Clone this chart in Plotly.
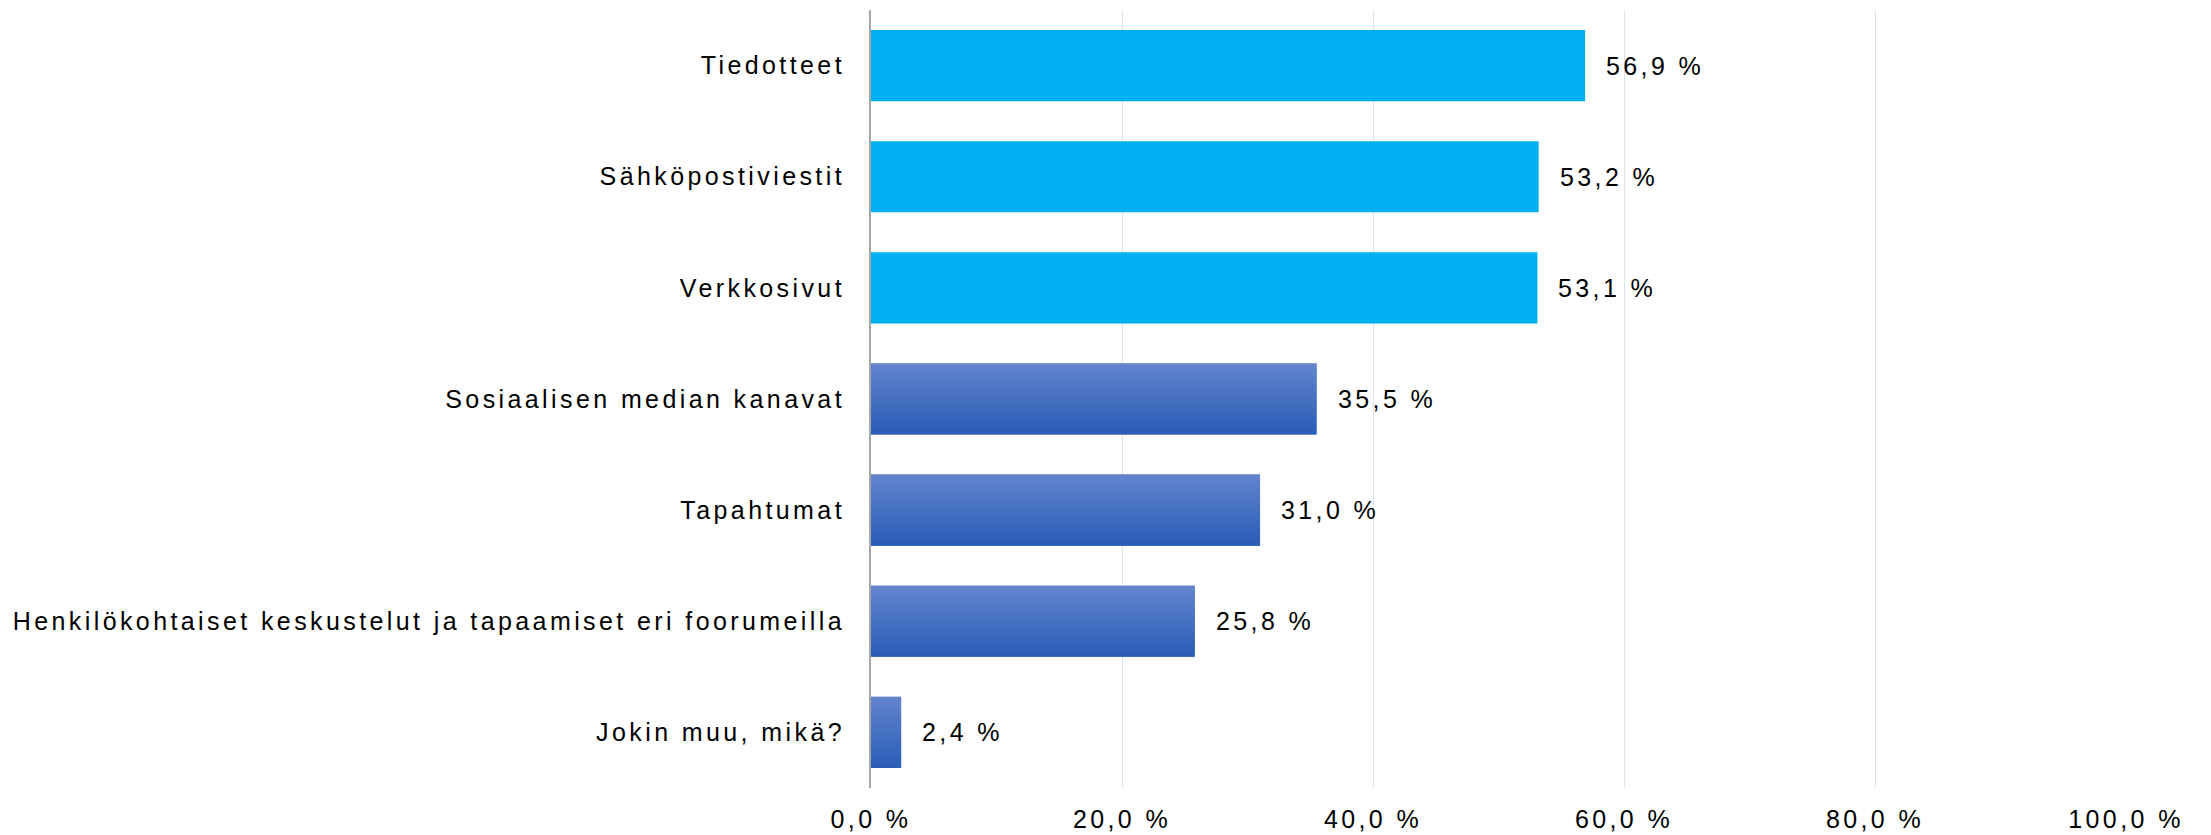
import plotly.graph_objects as go

categories = [
    'Tiedotteet',
    'Sähköpostiviestit',
    'Verkkosivut',
    'Sosiaalisen median kanavat',
    'Tapahtumat',
    'Henkilökohtaiset keskustelut ja tapaamiset eri foorumeilla',
    'Jokin muu, mikä?',
]
values = [56.9, 53.2, 53.1, 35.5, 31.0, 25.8, 2.4]
highlight = [True, True, True, False, False, False, False]
x_ticks = [0, 20, 40, 60, 80, 100]
x_tick_labels = ['0,0 %', '20,0 %', '40,0 %', '60,0 %', '80,0 %', '100,0 %']

FONT = 'Liberation Sans, Arial, sans-serif'
BAR_W = 0.64
N_SLICES = 24
TOP_RGB = (98, 132, 205)
BOT_RGB = (43, 94, 184)


def spaced(s):
    # the original uses widely tracked text
    return f'<span style="letter-spacing:3.4px">{s}</span>'


labels = [f'{v:.1f} %'.replace('.', ',') for v in values]

fig = go.Figure()
fig.add_trace(go.Bar(
    x=values, y=categories, orientation='h', width=BAR_W,
    marker=dict(color=['#00B0F0' if h else '#4571C6' for h in highlight],
                line=dict(width=0)),
    hoverinfo='skip',
))

# vertical gradient on the plain blue bars, drawn as thin horizontal slices
g_cat = [c for c, h in zip(categories, highlight) if not h]
g_val = [v for v, h in zip(values, highlight) if not h]
h = BAR_W / N_SLICES
for i in range(N_SLICES):
    t = i / (N_SLICES - 1)
    rgb = tuple(round(a + (b - a) * t) for a, b in zip(TOP_RGB, BOT_RGB))
    fig.add_trace(go.Bar(
        x=g_val, y=g_cat, orientation='h',
        width=h * 1.15 if i < N_SLICES - 1 else h,
        offset=-BAR_W / 2 + i * h,
        marker=dict(color='rgb(%d,%d,%d)' % rgb, line=dict(width=0)),
        hoverinfo='skip',
    ))

for v, c, t in zip(values, categories, labels):
    fig.add_annotation(x=v, y=c, text=spaced(t), showarrow=False,
                       xanchor='left', xshift=19,
                       font=dict(family=FONT, size=25, color='#000000'))

# page body has an 8px margin, so the figure is sized to fit the window
fig.update_layout(
    width=2203, height=827,
    margin=dict(l=863, r=85, t=2, b=40),
    paper_bgcolor='white', plot_bgcolor='white',
    barmode='overlay', showlegend=False,
    font=dict(family=FONT, size=25, color='#000000'),
)
fig.update_xaxes(
    range=[0, 100], tickvals=x_ticks, ticktext=[spaced(t) for t in x_tick_labels],
    showgrid=True, gridcolor='#DAE3F0', gridwidth=1, zeroline=False,
    ticks='outside', ticklen=9, tickcolor='rgba(0,0,0,0)',
    fixedrange=True,
)
fig.update_yaxes(
    autorange='reversed', showline=True, linecolor='#A6A6A6', linewidth=2,
    categoryorder='array', categoryarray=categories,
    tickvals=categories, ticktext=[spaced(c) for c in categories],
    ticks='outside', ticklen=19, tickcolor='rgba(0,0,0,0)',
    fixedrange=True,
)

fig.write_html('out.html')
